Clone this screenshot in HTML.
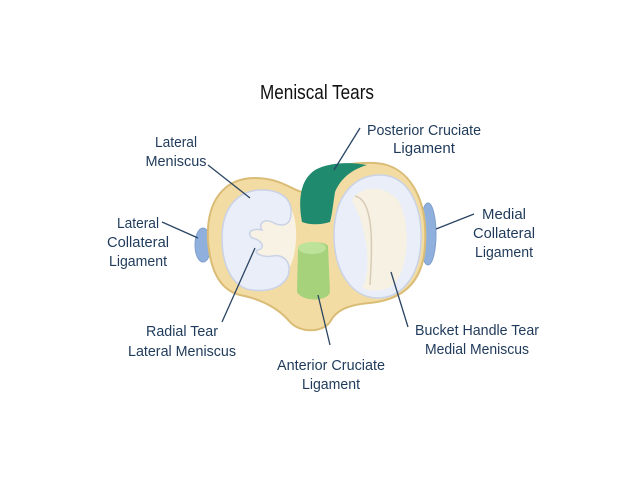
<!DOCTYPE html>
<html><head><style>body{margin:0;background:#fff}svg{display:block}</style></head><body>
<svg width="640" height="480" viewBox="0 0 640 480" xmlns="http://www.w3.org/2000/svg" font-family="Liberation Sans, sans-serif">
<rect width="640" height="480" fill="#fff"/>
<ellipse cx="203" cy="245" rx="8" ry="17" fill="#8fb0dc" stroke="#7f9fcc"/>
<ellipse cx="428" cy="234" rx="8" ry="31" fill="#8fb0dc" stroke="#7f9fcc"/>
<path d="M208,240 C206,200 225,178 255,178 C280,178 292,190 302,192 C315,170 340,162 375,163 C410,165 428,200 425,245 C423,285 400,300 370,303 C345,305 335,312 330,322 C322,333 300,333 290,322 C280,310 265,300 240,295 C220,290 210,270 208,240 Z" fill="#f3dca3" stroke="#d9bc76" stroke-width="2"/>
<path d="M222,238 C222,205 240,190 262,190 C285,190 298,210 296,240 C294,272 280,290 255,290 C235,290 222,270 222,238Z" fill="#f8f2e4"/>
<path d="M222,238 C222,205 240,190 262,190 C282,190 292,200 291,213 C291,225 283,228 272,222 C264,218 258,224 262,230 C252,228 246,232 252,238 C262,240 266,248 258,250 C252,252 262,258 272,256 C284,254 292,262 288,276 C282,288 268,292 252,290 C234,288 222,268 222,238Z" fill="#e9eef8" stroke="#c9d2e6" stroke-width="1.5"/>
<!-- medial meniscus -->
<path d="M334,235 C334,195 355,175 380,175 C408,175 422,205 421,240 C420,276 402,298 378,298 C352,298 334,272 334,235Z" fill="#e9eef8" stroke="#c9d2e6" stroke-width="1.5"/>
<path d="M352,200 C360,185 385,185 398,200 C410,220 410,262 396,282 C388,292 372,292 362,288 C372,270 368,230 352,200Z" fill="#f7f1e3"/>
<path d="M355,196 C375,200 372,250 370,285" stroke="#d8cbb5" stroke-width="1.5" fill="none"/>
<path d="M302,222 C298,200 300,180 315,170 C330,162 350,162 367,165 C350,170 340,180 335,192 C333,205 332,215 330,222 C320,225 310,225 302,222Z" fill="#1f8a6e"/>
<path d="M298,248 C300,242 325,240 328,246 L330,292 C328,302 302,302 297,292 Z" fill="#a7d27c"/>
<ellipse cx="312" cy="248" rx="14" ry="6" fill="#bde39a"/>
<g stroke="#2a4563" stroke-width="1.3" fill="none">
<line x1="208" y1="165" x2="250" y2="198"/>
<line x1="360" y1="128" x2="334" y2="170"/>
<line x1="162" y1="222" x2="198" y2="238"/>
<line x1="474" y1="214" x2="436" y2="229"/>
<line x1="222" y1="322" x2="255" y2="248"/>
<line x1="330" y1="345" x2="318" y2="295"/>
<line x1="408" y1="327" x2="391" y2="272"/>
</g>
<text x="317" y="99" font-size="20" text-anchor="middle" fill="#111" textLength="114" lengthAdjust="spacingAndGlyphs">Meniscal Tears</text>
<g fill="#1f3a5a" font-size="15" text-anchor="middle">
<text x="176" y="147" textLength="42" lengthAdjust="spacingAndGlyphs">Lateral</text>
<text x="176" y="166" textLength="61" lengthAdjust="spacingAndGlyphs">Meniscus</text>
<text x="424" y="135" textLength="114" lengthAdjust="spacingAndGlyphs">Posterior Cruciate</text>
<text x="424" y="153" textLength="62" lengthAdjust="spacingAndGlyphs">Ligament</text>
<text x="138" y="228" textLength="42" lengthAdjust="spacingAndGlyphs">Lateral</text>
<text x="138" y="247" textLength="62" lengthAdjust="spacingAndGlyphs">Collateral</text>
<text x="138" y="266" textLength="58" lengthAdjust="spacingAndGlyphs">Ligament</text>
<text x="504" y="219" textLength="44" lengthAdjust="spacingAndGlyphs">Medial</text>
<text x="504" y="238" textLength="62" lengthAdjust="spacingAndGlyphs">Collateral</text>
<text x="504" y="257" textLength="58" lengthAdjust="spacingAndGlyphs">Ligament</text>
<text x="182" y="336" textLength="72" lengthAdjust="spacingAndGlyphs">Radial Tear</text>
<text x="182" y="356" textLength="108" lengthAdjust="spacingAndGlyphs">Lateral Meniscus</text>
<text x="331" y="370" textLength="108" lengthAdjust="spacingAndGlyphs">Anterior Cruciate</text>
<text x="331" y="389" textLength="58" lengthAdjust="spacingAndGlyphs">Ligament</text>
<text x="477" y="335" textLength="124" lengthAdjust="spacingAndGlyphs">Bucket Handle Tear</text>
<text x="477" y="354" textLength="104" lengthAdjust="spacingAndGlyphs">Medial Meniscus</text>
</g>
</svg>
</body></html>
